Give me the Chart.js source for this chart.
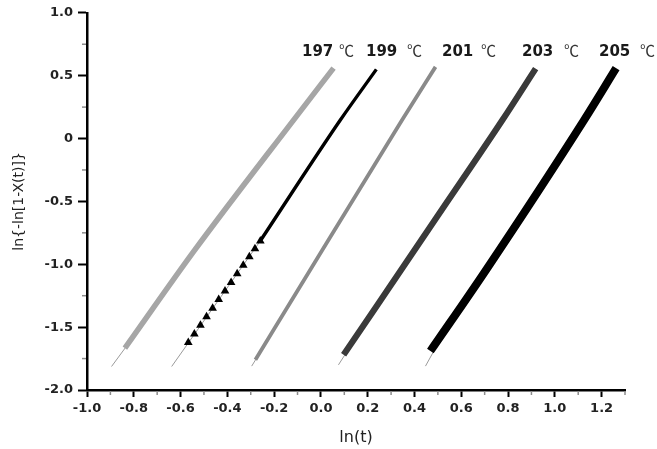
<!DOCTYPE html>
<html><head><meta charset="utf-8">
<script src="https://cdn.jsdelivr.net/npm/chart.js@4"></script>
<style>html,body{margin:0;padding:0;background:#fff}#wrap{width:657px;height:449px;position:relative}</style>
</head><body><div id="wrap"><canvas id="c"></canvas></div>
<script>
// ---- data ----
const seriesLabels = ['197', '199', '201', '203', '205'];
const unitLabel = '℃';

const s197X = [-0.838, -0.539, -0.117, 0.054];
const s197Y = [-1.667, -0.886, 0.147, 0.560];
const s199X = [-0.259, 0.083, 0.237];
const s199Y = [-0.814, 0.147, 0.550];
const s199MarkX = [-0.567, -0.541, -0.515, -0.489, -0.463, -0.437, -0.410, -0.384, -0.358, -0.332, -0.306, -0.282, -0.259];
const s199MarkY = [-1.622, -1.554, -1.486, -1.417, -1.349, -1.281, -1.213, -1.145, -1.076, -1.008, -0.940, -0.876, -0.814];
const s201X = [-0.280, -0.046, 0.347, 0.490];
const s201Y = [-1.760, -1.045, 0.147, 0.570];
const s203X = [0.097, 0.511, 0.776, 0.918];
const s203Y = [-1.720, -0.583, 0.147, 0.556];
const s205X = [0.468, 0.706, 1.125, 1.262];
const s205Y = [-1.690, -1.045, 0.147, 0.560];

// fitted-line tails
const fit197X = [-0.895, -0.700]; const fit197Y = [-1.813, -1.320];
const fit199X = [-0.638, -0.259]; const fit199Y = [-1.813, -0.814];
const fit201X = [-0.296, -0.150]; const fit201Y = [-1.810, -1.370];
const fit203X = [0.075, 0.230];  const fit203Y = [-1.800, -1.350];
const fit205X = [0.447, 0.590];  const fit205Y = [-1.810, -1.330];

const xTickValues = [-1.0, -0.8, -0.6, -0.4, -0.2, 0.0, 0.2, 0.4, 0.6, 0.8, 1.0, 1.2];
const xMinorTicks = [-0.9, -0.7, -0.5, -0.3, -0.1, 0.1, 0.3, 0.5, 0.7, 0.9, 1.1, 1.3];
const yTickValues = [1.0, 0.5, 0, -0.5, -1.0, -1.5, -2.0];
const yMinorTicks = [0.75, 0.25, -0.25, -0.75, -1.25, -1.75];

const pts = (xs, ys) => xs.map((x, i) => ({x: x, y: ys[i]}));

// ---- styles ----
const seriesStyle = [
  {color: '#a6a6a6', width: 5.5},
  {color: '#000000', width: 3.4},
  {color: '#8a8a8a', width: 3.8},
  {color: '#3a3a3a', width: 6.2},
  {color: '#000000', width: 8}
];
const labelPos = [ // pixel anchors for the temperature labels
  {x: 302, c: 339}, {x: 366, c: 407}, {x: 442, c: 481}, {x: 522, c: 564}, {x: 599, c: 640}
];

const seriesX = [s197X, s199X, s201X, s203X, s205X];
const seriesY = [s197Y, s199Y, s201Y, s203Y, s205Y];
const fitX = [fit197X, fit199X, fit201X, fit203X, fit205X];
const fitY = [fit197Y, fit199Y, fit201Y, fit203Y, fit205Y];

const datasets = [];
seriesX.forEach((xs, i) => {
  datasets.push({
    label: seriesLabels[i] + ' fit', data: pts(fitX[i], fitY[i]), showLine: true,
    borderColor: '#9a9a9a', borderWidth: 1, pointRadius: 0, order: 10
  });
  datasets.push({
    label: seriesLabels[i], data: pts(xs, seriesY[i]), showLine: true,
    borderColor: seriesStyle[i].color, borderWidth: seriesStyle[i].width,
    pointRadius: 0, cubicInterpolationMode: 'monotone', borderCapStyle: 'butt', order: 1
  });
});
datasets.push({
  label: '199 markers', data: pts(s199MarkX, s199MarkY), showLine: false,
  pointStyle: 'triangle', pointRadius: 5, backgroundColor: '#000', borderColor: '#000',
  borderWidth: 0, order: 0
});

const FONT = 'DejaVu Sans';

const decor = {
  id: 'decor',
  afterDraw(chart) {
    const ctx = chart.ctx, xs = chart.scales.x, ys = chart.scales.y;
    const ca = chart.chartArea;
    ctx.save();
    ctx.strokeStyle = '#8c8c8c'; ctx.lineWidth = 1.5;
    xMinorTicks.forEach(v => {
      const px = xs.getPixelForValue(v);
      ctx.beginPath(); ctx.moveTo(px, ca.bottom + 1); ctx.lineTo(px, ca.bottom + 5); ctx.stroke();
    });
    yMinorTicks.forEach(v => {
      const py = ys.getPixelForValue(v);
      ctx.beginPath(); ctx.moveTo(ca.left - 1, py); ctx.lineTo(ca.left - 5, py); ctx.stroke();
    });
    // temperature labels
    ctx.textBaseline = 'alphabetic'; ctx.textAlign = 'left';
    seriesLabels.forEach((t, i) => {
      ctx.fillStyle = '#1a1a1a';
      ctx.font = 'bold 15px "' + FONT + '"';
      ctx.fillText(t, labelPos[i].x, 56);
      ctx.fillStyle = '#333';
      ctx.font = '15px "Noto Sans CJK SC"';
      ctx.fillText(unitLabel, labelPos[i].c, 56);
    });
    ctx.restore();
  }
};

new Chart(document.getElementById('c'), {
  type: 'scatter',
  data: {datasets},
  options: {
    responsive: true, maintainAspectRatio: false, animation: false,
    layout: {padding: {top: 12, right: 32, left: 0, bottom: 0}},
    plugins: {legend: {display: false}, tooltip: {enabled: false}},
    scales: {
      x: {
        type: 'linear', min: -1.0, max: 1.3,
        afterFit(s) { s.height = 59; },
        afterBuildTicks(s) { s.ticks = xTickValues.map(v => ({value: v})); },
        ticks: {
          includeBounds: false, autoSkip: false, maxRotation: 0, padding: 4,
          color: '#222', font: {family: FONT, size: 13, weight: 'bold'},
          callback: v => Number(v).toFixed(1)
        },
        grid: {drawOnChartArea: false, drawTicks: true, tickLength: 7, tickColor: '#000', tickWidth: 2},
        border: {display: true, color: '#000', width: 2.5},
        title: {display: true, text: 'ln(t)', color: '#222', font: {family: FONT, size: 16}, padding: {top: 0, bottom: 2}}
      },
      y: {
        type: 'linear', min: -2.0, max: 1.0,
        afterFit(s) { s.width = 87; },
        afterBuildTicks(s) { s.ticks = yTickValues.map(v => ({value: v})); },
        ticks: {
          autoSkip: false, padding: 5,
          color: '#222', font: {family: FONT, size: 13, weight: 'bold'},
          callback: v => (v === 0 ? '0' : Number(v).toFixed(1))
        },
        grid: {drawOnChartArea: false, drawTicks: true, tickLength: 9, tickColor: '#000', tickWidth: 2},
        border: {display: true, color: '#000', width: 2.5},
        title: {display: true, text: 'ln{-ln[1-X(t)]}', color: '#222', font: {family: FONT, size: 14}, padding: {top: 11, bottom: 0}}
      }
    }
  },
  plugins: [decor]
});
</script>
</body></html>
